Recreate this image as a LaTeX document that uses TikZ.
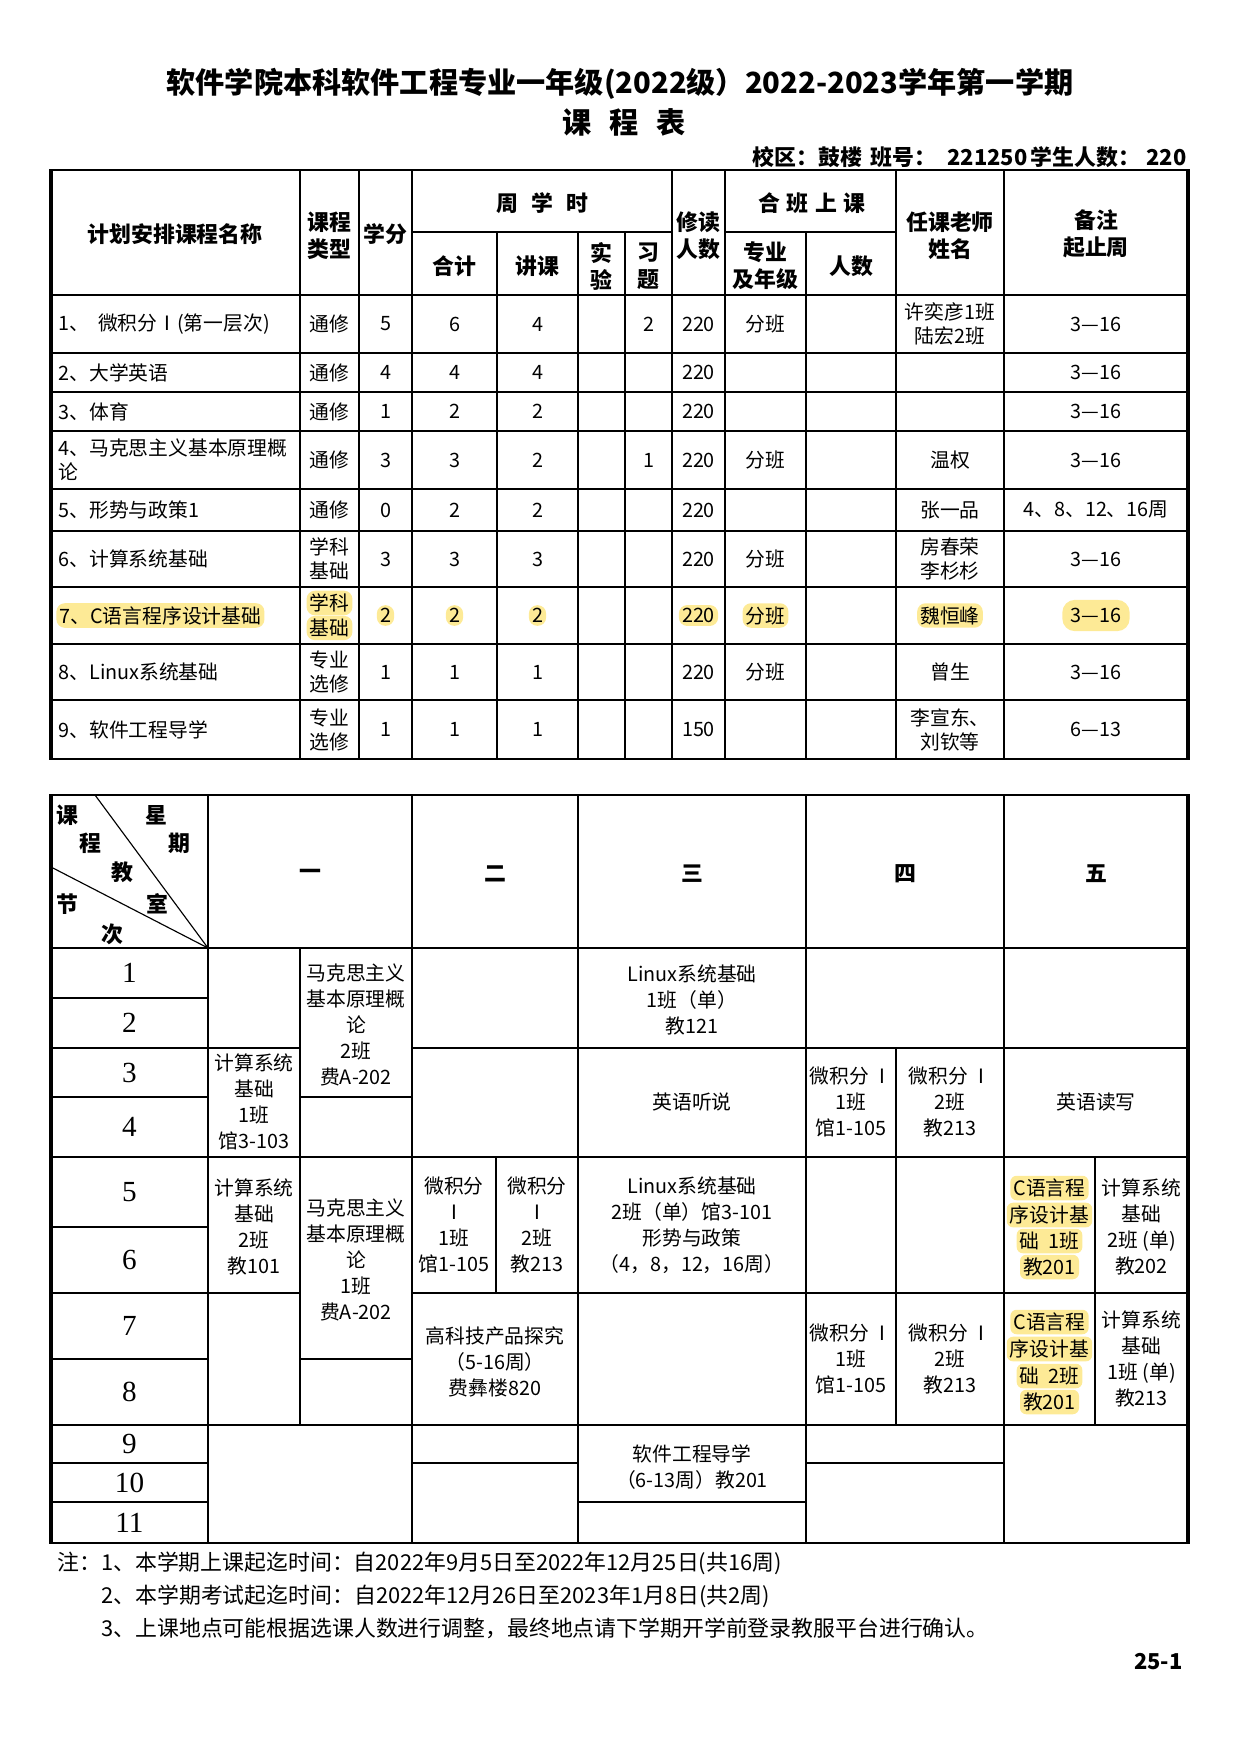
\documentclass[tikz,border=0pt]{standalone}
\usepackage{fontspec}
\setmainfont{Noto Sans CJK SC}
\newfontfamily\numfont{Liberation Serif}
\definecolor{hlyellow}{RGB}{253,234,150}

\begin{document}
\begin{tikzpicture}[x=0.48pt,y=-0.48pt,
    grid/.style={line width=0.55pt},
    edge/.style={line width=0.8pt},
    frame/.style={line width=1.8pt},
    body/.style={font=\fontsize{9.5}{11.5}\selectfont, align=center, inner sep=1pt},
    cellt/.style={font=\fontsize{9.5}{12.4}\selectfont, align=center, inner sep=1pt},
    head/.style={font=\fontsize{10.5}{13}\selectfont\bfseries, align=center, inner sep=1pt},
    hl/.style={fill=hlyellow, rounded corners=4pt, inner sep=1.5pt},
    rownum/.style={font=\numfont\fontsize{14}{15}\selectfont, inner sep=0pt}]
    \useasboundingbox (0,0) rectangle (1241,1755);

    % title
    \node (ttl) at (620,84) {\fontsize{14}{16}\selectfont\bfseries 软件学院本科软件工程专业一年级(2022级）2022-2023学年第一学期};
    \node (ttl2) at (624,122) {\fontsize{14}{16}\selectfont\bfseries 课\hspace{0.6em}程\hspace{0.6em}表};
    \node (info) at (1187,157) [anchor=east, inner sep=0pt] {\fontsize{10.5}{12}\selectfont\bfseries 校区：鼓楼\hspace{0.4em}班号：\hspace{0.5em}221250\hspace{0.15em}学生人数：\hspace{0.3em}220};

    % upper table
    \foreach \y in {295,353,392,431,489,531,587,644,700}
        \draw[grid] (51,\y) -- (1188,\y);
    \draw[edge] (51,170) -- (1188,170);
    \draw[edge] (51,759) -- (1188,759);
    \draw[grid] (412,232) -- (672,232) (725,232) -- (896,232);
    \foreach \x in {300,359,412,672,725,896,1004}
        \draw[grid] (\x,170) -- (\x,759);
    \foreach \x in {497,578,625,806}
        \draw[grid] (\x,232) -- (\x,759);
    \draw[frame] (51,169) -- (51,760) (1188,169) -- (1188,760);

    \node (hname) at (175,234) [head] {计划安排课程名称};
    \node (htype) at (329.5,236) [head] {课程\\类型};
    \node (hcred) at (385.5,234) [head] {学分};
    \node (hweek) at (542,203) [head] {周\hspace{0.6em}学\hspace{0.6em}时};
    \node (htot) at (454.5,266) [head] {合计};
    \node (hlec) at (537.5,266) [head] {讲课};
    \node (hlab) at (601.5,266) [head] {实\\验};
    \node (hexe) at (648.5,266) [head] {习\\题};
    \node (hstu) at (698.5,236) [head] {修读\\人数};
    \node (hjoin) at (812,203) [head] {合\hspace{0.3em}班\hspace{0.3em}上\hspace{0.3em}课};
    \node (hmaj) at (765.5,266) [head] {专业\\及年级};
    \node (hnum) at (851,266) [head] {人数};
    \node (htea) at (950,236) [head] {任课老师\\姓名};
    \node (hrem) at (1096,234) [head] {备注\\起止周};

    \foreach \r/\yc/\nm/\ty/\crd/\tot/\lec/\exe/\stu/\grp/\tea/\wk in {
        1/324/{1、\ \ 微积分Ⅰ(第一层次)}/通修/5/6/4/2/220/分班/{许奕彦1班\\陆宏2班}/3—16,
        2/372.5/{2、大学英语}/通修/4/4/4//220///3—16,
        3/411.5/{3、体育}/通修/1/2/2//220///3—16,
        4/460/{4、马克思主义基本原理概\\论}/通修/3/3/2/1/220/分班/温权/3—16,
        5/510/{5、形势与政策1}/通修/0/2/2//220//张一品/4、8、12、16周,
        6/559/{6、计算系统基础}/{学科\\基础}/3/3/3//220/分班/{房春荣\\李杉杉}/3—16,
        8/672/{8、Linux系统基础}/{专业\\选修}/1/1/1//220/分班/曾生/3—16,
        9/729.5/{9、软件工程导学}/{专业\\选修}/1/1/1//150//{李宣东、\\刘钦等}/6—13}{
        \node (n\r) at (56,\yc) [body, anchor=west, align=left] {\nm};
        \node (t\r) at (329.5,\yc) [body] {\ty};
        \node (c\r) at (385.5,\yc) [body] {\crd};
        \node (s\r) at (454.5,\yc) [body] {\tot};
        \node (l\r) at (537.5,\yc) [body] {\lec};
        \node (e\r) at (648.5,\yc) [body] {\exe};
        \node (p\r) at (698.5,\yc) [body] {\stu};
        \node (g\r) at (765.5,\yc) [body] {\grp};
        \node (k\r) at (950,\yc) [body] {\tea};
        \node (w\r) at (1096,\yc) [body] {\wk};
    }
    % row 7, marked
    \node (n7) at (56,615.5) [body, hl, anchor=west] {7、C语言程序设计基础};
    \node (t7a) at (329.5,603) [body, hl] {学科};
    \node (t7b) at (329.5,628) [body, hl] {基础};
    \node (c7) at (385.5,615.5) [body, hl] {2};
    \node (s7) at (454.5,615.5) [body, hl] {2};
    \node (l7) at (537.5,615.5) [body, hl] {2};
    \node (p7) at (698.5,615.5) [body, hl] {220};
    \node (g7) at (765.5,615.5) [body, hl] {分班};
    \node (k7) at (950,615.5) [body, hl] {魏恒峰};
    \node (w7) at (1096,615.5) [body, hl, inner sep=4pt, rounded corners=6pt] {3—16};

    % lower table
    \foreach \xa/\ya/\xb/\yb in {
        51/795/208/948, 208/795/412/948, 412/795/578/948, 578/795/806/948,
        806/795/1004/948, 1004/795/1188/948,
        208/948/300/1048, 300/948/412/1097, 208/1048/300/1157, 300/1097/412/1157,
        208/1157/300/1293, 300/1157/412/1359, 208/1293/300/1425, 300/1359/412/1425,
        208/1425/412/1543,
        412/948/578/1048, 412/1048/578/1157, 412/1157/496/1293, 496/1157/578/1293,
        412/1293/578/1425, 412/1425/578/1463, 412/1463/578/1543,
        578/948/806/1048, 578/1048/806/1157, 578/1157/806/1293, 578/1293/806/1425,
        578/1425/806/1502, 578/1502/806/1543,
        806/948/1004/1048, 806/1048/896/1157, 896/1048/1004/1157,
        806/1157/896/1293, 896/1157/1004/1293, 806/1293/896/1425, 896/1293/1004/1425,
        806/1425/1004/1463, 806/1463/1004/1543,
        1004/948/1188/1048, 1004/1048/1188/1157, 1004/1157/1095/1293, 1095/1157/1188/1293,
        1004/1293/1095/1425, 1095/1293/1188/1425, 1004/1425/1188/1543}
        \draw[grid] (\xa,\ya) rectangle (\xb,\yb);
    \foreach \n/\ya/\yb in {1/948/998, 2/998/1048, 3/1048/1097, 4/1097/1157,
        5/1157/1227, 6/1227/1293, 7/1293/1359, 8/1359/1425, 9/1425/1463,
        10/1463/1502, 11/1502/1543}{
        \draw[grid] (51,\ya) rectangle (208,\yb);
        \node (r\n) at (129.5,{(\ya+\yb)/2}) [rownum] {\n};
    }
    \draw[edge] (51,795) -- (1188,795);
    \draw[edge] (51,1543) -- (1188,1543);
    \draw[frame] (51,794) -- (51,1544) (1188,794) -- (1188,1544);

    % corner cell
    \coordinate (cnr) at (208,948);
    \coordinate (cnt) at (95,795);
    \coordinate (cnl) at (51,867);
    \draw[grid] (cnr) -- (cnt);
    \draw[grid] (cnr) -- (cnl);
    \foreach \nm/\x/\y/\tx in {k1/67/815/课, k2/156/815/星, k3/90/843/程, k4/179/843/期,
        k5/122/872/教, k6/67/904/节, k7/157/904/室, k8/112/934/次}
        \node (\nm) at (\x,\y) [head] {\tx};

    \foreach \nm/\x/\tx in {d1/310/一, d2/495/二, d3/692/三, d4/905/四, d5/1096/五}
        \node (\nm) at (\x,874) [head] {\tx};

    \foreach \nm/\x/\y/\tx in {
        mon1/356/1025/{马克思主义\\基本原理概\\论\\2班\\费A-202},
        mon2/254/1102/{计算系统\\基础\\1班\\馆3-103},
        mon3/254/1227/{计算系统\\基础\\2班\\教101},
        mon4/356/1260/{马克思主义\\基本原理概\\论\\1班\\费A-202},
        tue1/454/1225/{微积分\\Ⅰ\\1班\\馆1-105},
        tue2/537/1225/{微积分\\Ⅰ\\2班\\教213},
        tue3/495/1362/{高科技产品探究\\（5-16周）\\费彝楼820},
        wed1/692/1000/{Linux系统基础\\1班（单）\\教121},
        wed2/692/1102/{英语听说},
        wed3/692/1225/{Linux系统基础\\2班（单）馆3-101\\形势与政策\\（4，8，12，16周）},
        wed4/692/1467/{软件工程导学\\（6-13周）教201},
        thu1/851/1102/{微积分\,Ⅰ\\1班\\馆1-105},
        thu2/950/1102/{微积分\,Ⅰ\\2班\\教213},
        thu3/851/1359/{微积分\,Ⅰ\\1班\\馆1-105},
        thu4/950/1359/{微积分\,Ⅰ\\2班\\教213},
        fri1/1096/1102/{英语读写},
        fri2/1141.5/1227/{计算系统\\基础\\2班 (单)\\教202},
        fri3/1141.5/1359/{计算系统\\基础\\1班 (单)\\教213}}
        \node (\nm) at (\x,\y) [cellt] {\tx};

    % C course, marked line by line
    \foreach \nm/\y/\tx in {ca1/1188/C语言程, ca2/1215/序设计基, ca3/1241/础\ \ 1班, ca4/1267/教201,
        cb1/1322/C语言程, cb2/1349/序设计基, cb3/1376/础\ \ 2班, cb4/1402/教201}
        \node (\nm) at (1049.5,\y) [cellt, hl, rounded corners=3pt] {\tx};

    % notes
    \node (nt1) at (57,1563) [anchor=west, inner sep=0pt] {\fontsize{10.5}{12}\selectfont 注：1、本学期上课起迄时间：自2022年9月5日至2022年12月25日(共16周)};
    \node (nt2) at (101,1596) [anchor=west, inner sep=0pt] {\fontsize{10.5}{12}\selectfont 2、本学期考试起迄时间：自2022年12月26日至2023年1月8日(共2周)};
    \node (nt3) at (101,1628) [anchor=west, inner sep=0pt] {\fontsize{10.5}{12}\selectfont 3、上课地点可能根据选课人数进行调整，最终地点请下学期开学前登录教服平台进行确认。};
    \node (pg) at (1183,1662) [anchor=east, inner sep=0pt] {\fontsize{10.5}{12}\selectfont\bfseries 25-1};
\end{tikzpicture}
\end{document}
